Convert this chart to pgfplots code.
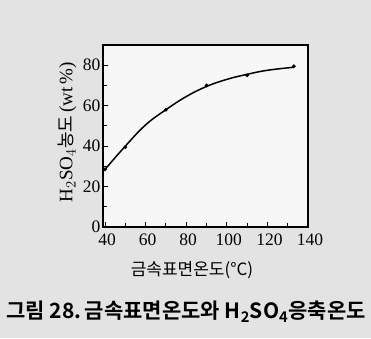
\documentclass[border=0pt]{standalone}
\usepackage{pgfplots}
\pgfplotsset{compat=1.18}
\usepackage{fontspec}
\setmainfont{Liberation Serif}
\newfontfamily\kr{Noto Sans CJK KR}
\newfontfamily\krb{Noto Sans CJK KR}[BoldFont={* Bold}]
\begin{document}
\begin{tikzpicture}
\fill[gray!22] (0pt,0pt) rectangle (371pt,338pt);
\begin{axis}[
  at={(103pt,111pt)}, anchor=south west,
  scale only axis, width=205pt, height=182pt,
  xmin=39, xmax=140, ymin=0, ymax=90,
  axis background/.style={fill=gray!6},
  axis line style={line width=1.3pt},
  xtick={40,60,80,100,120,140},
  ytick={0,20,40,60,80},
  minor xtick={50,70,90,110,130},
  minor ytick={10,30,50,70},
  xtick pos=bottom, ytick pos=left,
  tick align=inside,
  major tick length=5pt, minor tick length=4pt,
  tick style={line width=1pt,black},
  tick label style={font=\fontsize{17.5}{17.5}\selectfont},
  /pgf/number format/assume math mode=true,
  xticklabel style={yshift=-3pt, xshift=2pt},
  yticklabel style={xshift=1pt},
  clip=false,
]
\addplot[black, line width=1.5pt, smooth, tension=0.7]
  coordinates {(40,28.5) (50,40) (60,50.5) (70,58) (80,64.5) (90,69.5) (100,73) (110,75.5) (120,77.5) (133,79)};
\addplot[only marks, black, mark=*, mark size=1.7pt]
  coordinates {(40,28.5) (50,39.5) (70,58) (90,70) (110,75) (133,79.5)};
\end{axis}
\node[rotate=90] at (67pt,206pt) {\fontsize{19}{19}\selectfont H$_2$SO$_4${\kr\fontsize{18}{18}\selectfont 농도}\,(wt\,\%)};
\node at (192pt,68pt) {\kr\fontsize{17}{17}\selectfont 금속표면온도(°C)};
\node at (186pt,26pt) {\krb\bfseries\fontsize{21}{21}\selectfont 그림 28.\,금속표면온도와 H\textsubscript{2}SO\textsubscript{4}응축온도};
\end{tikzpicture}
\end{document}
